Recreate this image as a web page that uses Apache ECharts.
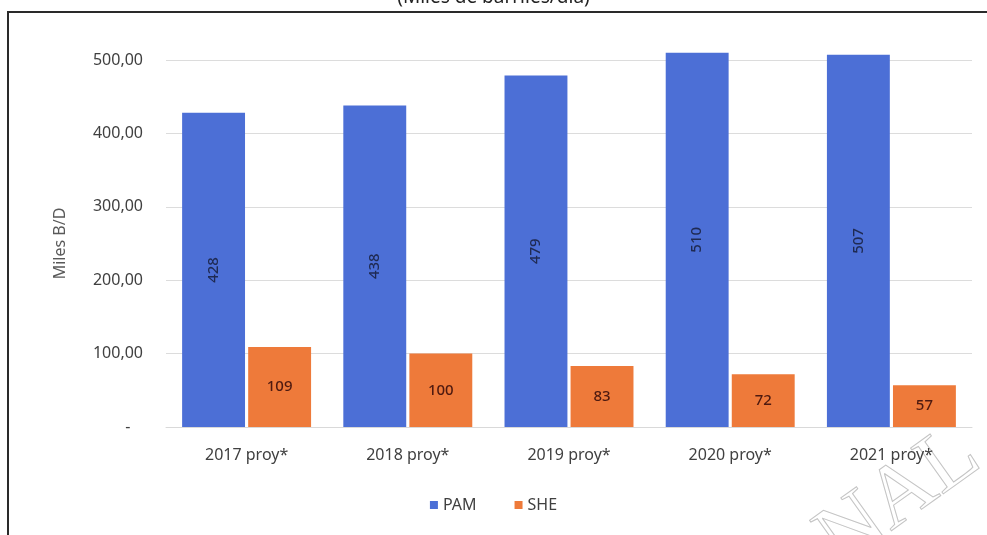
<!DOCTYPE html>
<html>
<head>
<meta charset="utf-8">
<script src="https://cdn.jsdelivr.net/npm/echarts@6/dist/echarts.min.js"></script>
<style>
  html, body { margin: 0; padding: 0; background: #fff; }
  #chart { width: 987px; height: 535px; }
</style>
</head>
<body>
<div id="chart"></div>
<script>
// categorias y valores (miles de barriles/dia)
const categories = ['2017 proy*', '2018 proy*', '2019 proy*', '2020 proy*', '2021 proy*']
const pamValues = [428, 438, 479, 510, 507]
const sheValues = [109, 100, 83, 72, 57]
const yTicks = [0, 100, 200, 300, 400, 500]

const font = 'Noto Sans'
const chart = echarts.init(document.getElementById('chart'))

chart.setOption({
  animation: false,
  textStyle: { fontFamily: font },
  grid: { left: 166, right: 15, top: 60, bottom: 108 },
  legend: {
    data: ['PAM', 'SHE'],
    bottom: 17,
    left: 'center',
    itemWidth: 8,
    itemHeight: 8,
    itemGap: 38,
    icon: 'rect',
    textStyle: { fontSize: 16, color: '#404040', fontFamily: font }
  },
  xAxis: {
    type: 'category',
    data: categories,
    axisLine: { lineStyle: { color: '#d9d9d9' } },
    axisTick: { show: false },
    axisLabel: { fontSize: 16, color: '#404040', margin: 20 }
  },
  yAxis: {
    type: 'value',
    min: yTicks[0],
    max: yTicks[yTicks.length - 1],
    interval: 100,
    name: 'Miles B/D',
    nameLocation: 'middle',
    nameGap: 98,
    nameTextStyle: { fontSize: 16, color: '#595959' },
    axisLine: { show: false },
    axisTick: { show: false },
    splitLine: { lineStyle: { color: '#dcdcdc' } },
    axisLabel: {
      fontSize: 16,
      color: '#404040',
      margin: 23,
      formatter: v => v === 0 ? '-   ' : v.toFixed(2).replace('.', ',')
    }
  },
  series: [
    {
      name: 'PAM',
      type: 'bar',
      data: pamValues,
      clip: false,
      barGap: '5%',
      barCategoryGap: '20%',
      itemStyle: { color: '#4c6fd6' },
      label: {
        show: true,
        position: 'inside',
        rotate: 90,
        fontSize: 15,
        fontWeight: 500,
        color: '#1f2a52'
      }
    },
    {
      name: 'SHE',
      type: 'bar',
      data: sheValues,
      clip: false,
      itemStyle: { color: '#ee7a3a' },
      label: {
        show: true,
        position: 'inside',
        fontSize: 15,
        fontWeight: 500,
        color: '#4e1a10'
      }
    }
  ],
  graphic: [
    {
      // titulo cortado arriba
      type: 'text',
      left: 'center',
      top: -12,
      style: { text: '(Miles de barriles/día)', fontSize: 19, fill: '#222', fontFamily: font }
    },
    {
      // marco
      type: 'polyline',
      shape: { points: [[8, 535], [8, 12], [987, 12]] },
      style: { stroke: '#2a2a2a', lineWidth: 2, fill: null }
    },
    {
      // marca de agua
      type: 'text',
      x: 852,
      y: 584,
      rotation: 0.62,
      style: {
        text: 'NAL',
        fontSize: 86,
        fontFamily: 'Liberation Serif',
        verticalAlign: 'bottom',
        fill: 'none',
        stroke: '#c4c4c4',
        lineWidth: 1
      }
    }
  ]
})
</script>
</body>
</html>
